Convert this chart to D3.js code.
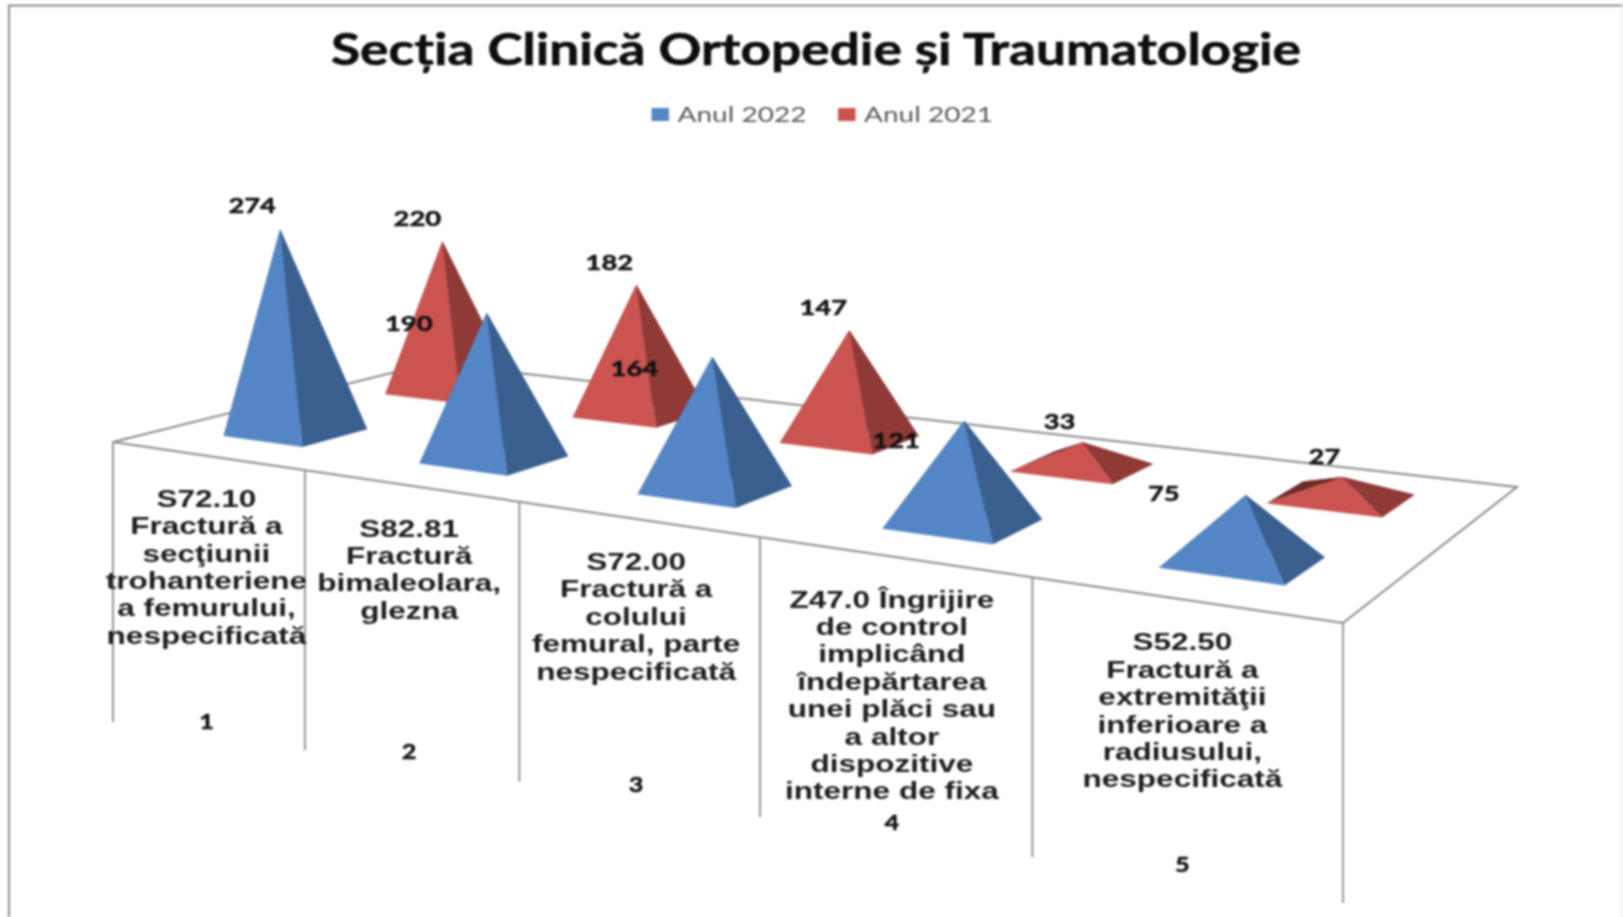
<!DOCTYPE html>
<html lang="en">
<head>
  <title>Secția Clinică Ortopedie și Traumatologie</title>
  <meta charset="utf-8">
  <script src="https://d3js.org/d3.v7.min.js"></script>
  <style>
    html, body { margin: 0; padding: 0; background: #fff; }
    svg { display: block; filter: blur(0.9px); }
    text { font-family: Lato, "Liberation Sans", sans-serif; }
    .frame, .floor, .drop { fill: none; stroke: #8a8a8a; }
    .value { font-size: 21px; font-weight: bold; fill: #111; stroke: #111; stroke-width: 0.5; text-anchor: middle; }
    .cat { font-family: "Liberation Sans", Arial, sans-serif; font-size: 23px; font-weight: bold; fill: #1c1c1c; text-anchor: middle; }
    .num { font-size: 21px; font-weight: bold; fill: #111; stroke: #111; stroke-width: 0.5; text-anchor: middle; }
  </style>
</head>
<body>
<svg width="1623" height="917"></svg>
<script>

var chartTitle = "Secția Clinică Ortopedie și Traumatologie";
var categories = ["1", "2", "3", "4", "5"];
var categoryLines = [
  ["S72.10", "Fractură a", "secţiunii", "trohanteriene", "a femurului,", "nespecificată"],
  ["S82.81", "Fractură", "bimaleolara,", "glezna"],
  ["S72.00", "Fractură a", "colului", "femural, parte", "nespecificată"],
  ["Z47.0 Îngrijire", "de control", "implicând", "îndepărtarea", "unei plăci sau", "a altor", "dispozitive", "interne de fixa"],
  ["S52.50", "Fractură a", "extremităţii", "inferioare a", "radiusului,", "nespecificată"]
];
var seriesNames = ["Anul 2022", "Anul 2021"];
var values2022 = [274, 190, 164, 121, 75];
var values2021 = [220, 182, 147, 33, 27];

// label offsets from the pyramid tip, the labels were moved by hand in the original
var labelOffset2022 = [[-28, -24], [-78, 11], [-78, 12], [-68, 20], [-82, -1]];
var labelOffset2021 = [[-25, -23], [-27, -22], [-26, -23], [-23, -21], [-18, -21]];

var colors = {
  "Anul 2022": { face: "#5486c6", side: "#395f8f", back: "#2b4a70" },
  "Anul 2021": { face: "#cb5450", side: "#8f3a37", back: "#6f2a28" }
};

var svg = d3.select("svg");

// floor runs 0..1 in both directions, front left corner is (0, 0)
var x = d3.scaleBand().domain(categories).range([0, 1]);
var z = d3.scaleBand().domain(seriesNames).range([0, 1]);
var y = d3.scaleLinear().domain([0, 300]).range([0, 233.1]);

// camera of the 3D chart, fitted on the floor corners and the pyramid tips
function project(s, t, h) {
  var w = -0.26 * s + 0.175 * t + 1 - 0.000125 * h;
  return [
    (880.8 * s + 394.3 * t + 113 - 0.11 * h) / w,
    (19 * s - 15.4 * t + 442 - h) / w
  ];
}

function fit(sel, stretch) {
  sel.each(function() {
    d3.select(this)
      .attr("textLength", this.getComputedTextLength() * stretch)
      .attr("lengthAdjust", "spacingAndGlyphs");
  });
}

var poly = d3.line().curve(d3.curveLinearClosed);

// frame
svg.append("path").attr("class", "frame").attr("stroke-width", 2)
    .attr("d", "M9,917V5.5H1623");
svg.append("path").attr("class", "frame").style("stroke", "#e4e4e4")
    .attr("d", "M1621.5,5V917");

// title
svg.append("text")
    .attr("x", 816).attr("y", 65)
    .attr("text-anchor", "middle")
    .attr("font-size", 44).attr("font-weight", "bold").attr("fill", "#0d0d0d")
    .attr("stroke", "#0d0d0d").attr("stroke-width", 0.6)
    .attr("textLength", 970).attr("lengthAdjust", "spacingAndGlyphs")
    .text(chartTitle);

// legend
var legendX = d3.scaleOrdinal().domain(seriesNames).range([651.5, 838]);
var legend = svg.selectAll(".legend").data(seriesNames).enter().append("g")
    .attr("class", "legend")
    .attr("transform", function(d) { return "translate(" + legendX(d) + ",108)"; });
legend.append("rect").attr("width", 17.5).attr("height", 13)
    .attr("fill", function(d) { return colors[d].face; });
legend.append("text").attr("x", 26).attr("y", 14)
    .attr("font-size", 22).attr("fill", "#595959")
    .attr("textLength", 129).attr("lengthAdjust", "spacingAndGlyphs")
    .text(function(d) { return d; });

// floor and the drop lines under it
svg.append("path").attr("class", "floor").attr("stroke-width", 2)
    .attr("d", poly([project(0, 0, 0), project(1, 0, 0), project(1, 1, 0), project(0, 1, 0)]));

var tickPos = categories.map(function(c) { return x(c); }).concat([1]);
svg.selectAll(".drop").data(tickPos).enter().append("line")
    .attr("class", "drop").attr("stroke-width", 1.8)
    .attr("x1", function(d) { return project(d, 0, 0)[0]; })
    .attr("x2", function(d) { return project(d, 0, 0)[0]; })
    .attr("y1", function(d) { return project(d, 0, 0)[1]; })
    .attr("y2", function(d) { return project(d, 0, 0)[1] + 280; });

// category texts
var catGroup = svg.selectAll(".catg").data(categories).enter().append("g").attr("class", "catg")
    .attr("transform", function(c) {
      var p = project(x(c) + x.bandwidth() / 2, 0, 0);
      return "translate(" + p[0] + "," + p[1] + ")";
    });

catGroup.selectAll(".cat").data(function(c, i) { return categoryLines[i]; }).enter().append("text")
    .attr("class", "cat")
    .attr("y", function(d, i) { return 51 + i * 27.4; })
    .text(function(d) { return d; })
    .call(fit, 1.37);

catGroup.append("text").attr("class", "num").attr("y", 273)
    .text(function(c) { return c; })
    .call(fit, 1.2);

// pyramids, 2021 row stands behind the 2022 row
var halfX = 0.0415, halfZ = 0.097, nudge = 0.0015;
var rows = [
  { name: "Anul 2021", values: values2021, offsets: labelOffset2021 },
  { name: "Anul 2022", values: values2022, offsets: labelOffset2022 }
];

rows.forEach(function(row) {
  var c = colors[row.name];
  row.values.forEach(function(v, i) {
    var s = x(categories[i]) + x.bandwidth() / 2 + nudge;
    var t = z(row.name) + z.bandwidth() / 2;
    var a = project(s - halfX, t - halfZ, 0),
        b = project(s + halfX, t - halfZ, 0),
        e = project(s + halfX, t + halfZ, 0),
        f = project(s - halfX, t + halfZ, 0),
        tip = project(s, t, y(v));
    var g = svg.append("g").attr("class", "pyramid");
    g.append("path").attr("d", poly([f, e, tip])).attr("fill", c.back);
    g.append("path").attr("d", poly([a, f, tip])).attr("fill", c.back);
    g.append("path").attr("d", poly([b, e, tip])).attr("fill", c.side);
    g.append("path").attr("d", poly([a, b, tip])).attr("fill", c.face);
  });
});

// value labels go on top of everything
rows.forEach(function(row) {
  row.values.forEach(function(v, i) {
    var s = x(categories[i]) + x.bandwidth() / 2 + nudge;
    var t = z(row.name) + z.bandwidth() / 2;
    var tip = project(s, t, y(v));
    svg.append("text").attr("class", "value")
        .attr("x", tip[0] + row.offsets[i][0])
        .attr("y", tip[1] + row.offsets[i][1] + 7.5)
        .text(v)
        .call(fit, 1.3);
  });
});

</script>
</body>
</html>
